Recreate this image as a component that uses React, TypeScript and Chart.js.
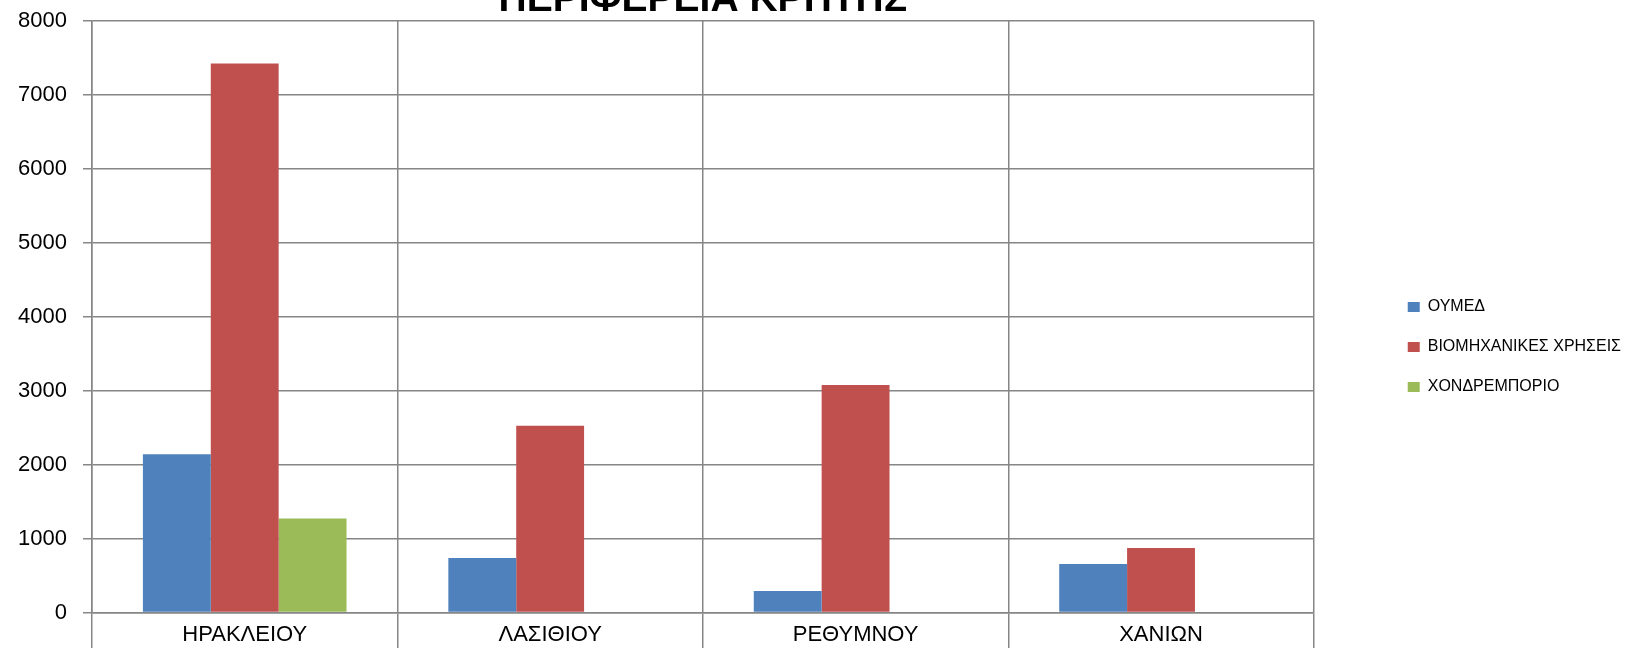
import React, { useEffect, useRef } from "react";
import { Chart, registerables } from "chart.js";

Chart.register(...registerables);

const categories = ["ΗΡΑΚΛΕΙΟΥ", "ΛΑΣΙΘΙΟΥ", "ΡΕΘΥΜΝΟΥ", "ΧΑΝΙΩΝ"];
const oymedValues = [2140, 735, 290, 655];
const industrialValues = [7420, 2525, 3075, 870];
const wholesaleValues = [1270, 0, 0, 0];
const seriesNames = ["ΟΥΜΕΔ", "ΒΙΟΜΗΧΑΝΙΚΕΣ ΧΡΗΣΕΙΣ", "ΧΟΝΔΡΕΜΠΟΡΙΟ"];
const titleText = "ΠΕΡΙΦΕΡΕΙΑ ΚΡΗΤΗΣ";
const yMin = 0;
const yMax = 8000;
const yStep = 1000;

const FONT = "'Liberation Sans', Arial, sans-serif";
const GRID = "#868686";

export default function App() {
  const canvasRef = useRef<HTMLCanvasElement | null>(null);

  useEffect(() => {
    if (!canvasRef.current) return;
    Chart.defaults.font.family = FONT;
    Chart.defaults.color = "#000";
    const chart = new Chart(canvasRef.current, {
      type: "bar",
      data: {
        labels: categories,
        datasets: [
          { label: seriesNames[0], data: oymedValues, backgroundColor: "#4F81BD", borderWidth: 0 },
          { label: seriesNames[1], data: industrialValues, backgroundColor: "#C0504D", borderWidth: 0 },
          { label: seriesNames[2], data: wholesaleValues, backgroundColor: "#9BBB59", borderWidth: 0 },
        ],
      },
      options: {
        animation: false,
        responsive: true,
        maintainAspectRatio: false,
        layout: { padding: { left: 0, right: 11, top: 0, bottom: 0 } },
        datasets: { bar: { categoryPercentage: 3 / 4.5, barPercentage: 1 } },
        plugins: {
          tooltip: { enabled: false },
          title: {
            display: true,
            text: titleText,
            fullSize: false,
            color: "#000",
            font: { family: FONT, size: 39, weight: "bold", lineHeight: 1 },
            padding: { top: 0, bottom: 0.5 },
          },
          legend: {
            position: "right",
            align: "center",
            labels: {
              boxWidth: 12,
              boxHeight: 10,
              padding: 24,
              color: "#000",
              font: { family: FONT, size: 16 },
            },
          },
        },
        scales: {
          x: {
            grid: {
              offset: true,
              color: GRID,
              lineWidth: 1.5,
              tickLength: 95,
              drawOnChartArea: true,
            },
            border: { color: GRID, width: 1.5 },
            ticks: { padding: -86, color: "#000", font: { family: FONT, size: 22 } },
            afterFit: (s: any) => {
              s.height = 100.5;
            },
          },
          y: {
            min: yMin,
            max: yMax,
            ticks: {
              stepSize: yStep,
              padding: 16,
              color: "#000",
              font: { family: FONT, size: 22 },
              callback: (v: any) => String(v),
            },
            grid: { color: GRID, lineWidth: 1.5, tickLength: 9 },
            border: { color: GRID, width: 1.5 },
            afterFit: (s: any) => {
              s.width = 92;
            },
          },
          yr: {
            position: "right",
            display: true,
            grid: { display: false, drawTicks: false },
            ticks: { display: false },
            border: { display: false },
            afterFit: (s: any) => {
              s.width = 70;
            },
          },
        },
      },
    });
    return () => chart.destroy();
  }, []);

  return (
    <div style={{ position: "fixed", left: 0, top: 0, right: 0, bottom: 0, overflow: "hidden", background: "#fff" }}>
      <div style={{ position: "absolute", left: 0, top: -19, width: 1642, height: 732 }}>
        <canvas ref={canvasRef} />
      </div>
    </div>
  );
}
